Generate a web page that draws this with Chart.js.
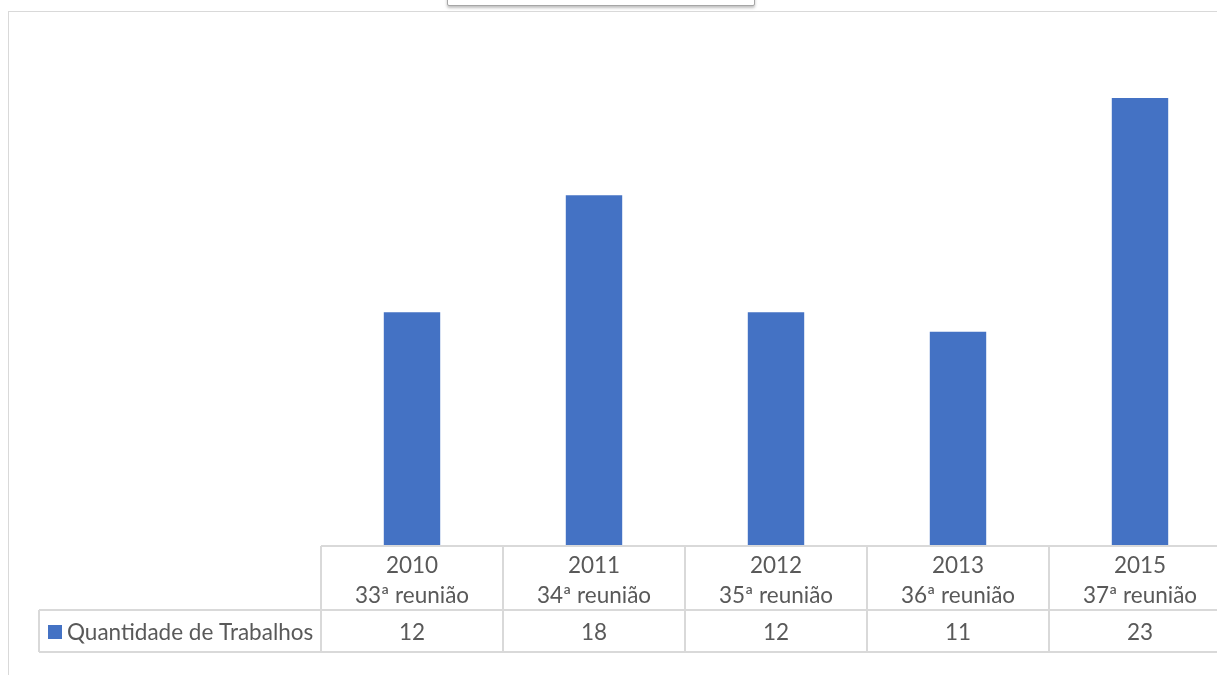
<!DOCTYPE html>
<html>
<head>
<meta charset="utf-8">
<script src="https://cdn.jsdelivr.net/npm/chart.js@4/dist/chart.umd.min.js"></script>
<style>
html,body{margin:0;padding:0;background:#fff;overflow:hidden;width:1217px;height:675px;}
#wrap{position:absolute;left:0;top:0;width:1240px;height:675px;}
#frame{position:absolute;left:8px;top:11px;width:1300px;height:700px;border:1.5px solid #d9d9d9;box-sizing:border-box;}
#topbox{position:absolute;left:447px;top:-10px;width:306px;height:14px;border:1px solid #a6a6a6;border-radius:2px;background:#fff;box-shadow:0 2px 3px rgba(0,0,0,0.25);}
</style>
</head>
<body>
<div id="frame"></div>
<div id="topbox"></div>
<div id="wrap"><canvas id="c" width="1240" height="675"></canvas></div>
<script>
const years = ["2010", "2011", "2012", "2013", "2015"];
const meetings = ["33ª reunião", "34ª reunião", "35ª reunião", "36ª reunião", "37ª reunião"];
const seriesName = "Quantidade de Trabalhos";
const values = [12, 18, 12, 11, 23];

const FONT = '22.5px Lato, "Open Sans", sans-serif';
const TXT = '#595959';
const LINE = '#d9d9d9';

const tablePlugin = {
  id: 'dataTable',
  afterDraw(chart) {
    const ctx = chart.ctx;
    const xs = chart.scales.x;
    const area = chart.chartArea;
    const n = years.length;
    const w = (area.right - area.left) / n;
    const y0 = area.bottom;
    const y1 = y0 + 64;
    const y2 = y1 + 42;
    const legendLeft = 39;
    ctx.save();
    ctx.strokeStyle = LINE;
    ctx.lineWidth = 2;
    ctx.beginPath();
    ctx.moveTo(area.left, y0); ctx.lineTo(area.right, y0);
    ctx.moveTo(legendLeft, y1); ctx.lineTo(area.right, y1);
    ctx.moveTo(legendLeft, y2); ctx.lineTo(area.right, y2);
    ctx.moveTo(legendLeft, y1); ctx.lineTo(legendLeft, y2);
    for (let i = 0; i <= n; i++) {
      const x = area.left + i * w;
      ctx.moveTo(x, y0); ctx.lineTo(x, y2);
    }
    ctx.stroke();

    ctx.fillStyle = TXT;
    ctx.font = FONT;
    ctx.textAlign = 'center';
    ctx.textBaseline = 'middle';
    for (let i = 0; i < n; i++) {
      const cx = xs.getPixelForValue(i);
      ctx.fillText(years[i], cx, y0 + 20);
      ctx.fillText(meetings[i], cx, y0 + 50);
      ctx.fillText(String(values[i]), cx, (y1 + y2) / 2 + 2);
    }
    // legend cell
    ctx.fillStyle = '#4472C4';
    ctx.fillRect(48, 625, 14, 14);
    ctx.fillStyle = TXT;
    ctx.textAlign = 'left';
    ctx.fillText(seriesName, 67, (y1 + y2) / 2 + 2);
    ctx.restore();
  }
};

new Chart(document.getElementById('c'), {
  type: 'bar',
  data: {
    labels: years,
    datasets: [{
      label: seriesName,
      data: values,
      backgroundColor: '#4472C4',
      borderWidth: 0,
      categoryPercentage: 1,
      barPercentage: 0.31
    }]
  },
  options: {
    responsive: false,
    animation: false,
    layout: { padding: { left: 321, right: 9, top: 59, bottom: 129 } },
    plugins: { legend: { display: false }, tooltip: { enabled: false } },
    scales: {
      x: { display: false },
      y: { display: false, min: 0, max: 25 }
    }
  },
  plugins: [tablePlugin]
});
</script>
</body>
</html>
